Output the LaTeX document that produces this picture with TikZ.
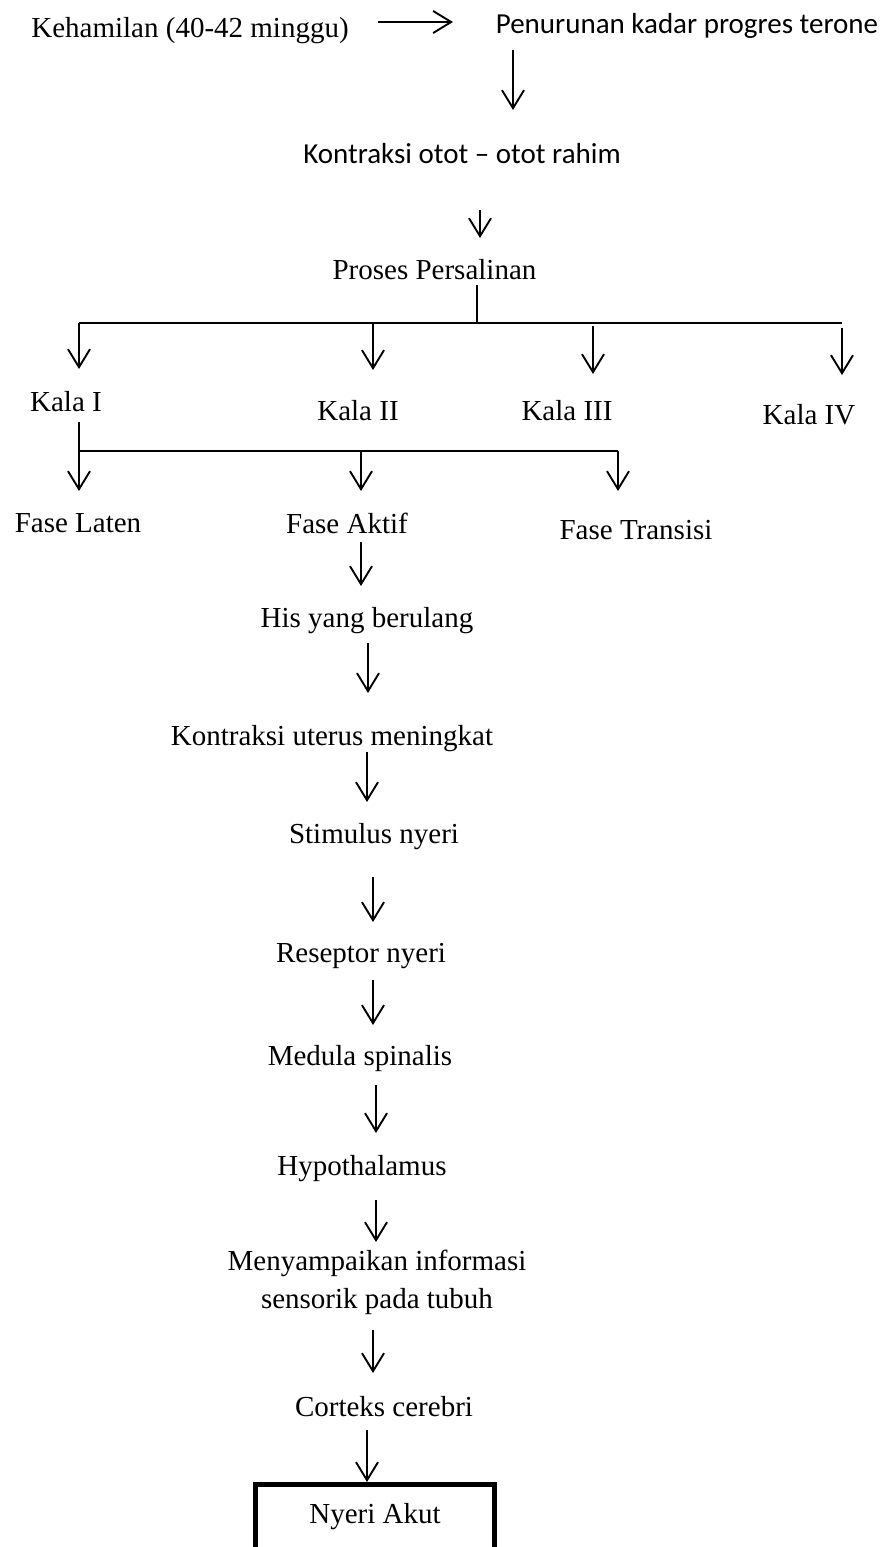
\documentclass[tikz,border=0pt]{standalone}
\usepackage{fontspec}
\setmainfont{Liberation Serif}
\newfontfamily\calibri{Carlito}
\usetikzlibrary{arrows.meta}
\begin{document}
\begin{tikzpicture}[x=1pt,y=-1pt,
  lbl/.style={anchor=base, inner sep=0pt, font=\fontsize{29}{38}\selectfont},
  cal/.style={anchor=base, inner sep=0pt, font=\calibri\fontsize{29}{38}\selectfont},
  arr/.style={line width=1.9pt, -{Straight Barb[length=18pt,width=22pt,line width=1.9pt]}},
  ln/.style={line width=1.9pt},
  boxline/.style={line width=5pt}]
\useasboundingbox (0,0) rectangle (886,1547);

% texts
\node[lbl] (keh) at (190,37) {Kehamilan (40-42 minggu)};
\node[cal] (pen) at (687,33) {Penurunan kadar progres terone};
\node[cal] (kon) at (462,163) {Kontraksi otot – otot rahim};
\node[lbl] (pro) at (434.5,279) {Proses Persalinan};
\node[lbl] (k1) at (66,411) {Kala I};
\node[lbl] (k2) at (358,420) {Kala II};
\node[lbl] (k3) at (567,420) {Kala III};
\node[lbl] (k4) at (809,424) {Kala IV};
\node[lbl] (fl) at (78,532) {Fase Laten};
\node[lbl] (fa) at (347,533) {Fase Aktif};
\node[lbl] (ft) at (636,539) {Fase Transisi};
\node[lbl] (his) at (367,627) {His yang berulang};
\node[lbl] (ku) at (332,745) {Kontraksi uterus meningkat};
\node[lbl] (sn) at (374,843) {Stimulus nyeri};
\node[lbl] (rn) at (361,962) {Reseptor nyeri};
\node[lbl] (ms) at (360,1065) {Medula spinalis};
\node[lbl] (hy) at (362,1175) {Hypothalamus};
\node[lbl, align=center] (mi) at (377,1308) {Menyampaikan informasi\\sensorik pada tubuh};
\node[lbl] (cc) at (384,1416) {Corteks cerebri};
\node[lbl] (na) at (375,1523) {Nyeri Akut};

% box
\coordinate (bl) at (255.5,1570);
\coordinate (bt) at (375,1484.5);
\coordinate (br) at (494.5,1570);
\draw[boxline] (bl) |- (bt) -| (br);

% connector points
\coordinate (a1s) at (378,22);   \coordinate (a1e) at (453,22);
\coordinate (a2s) at (513,50);   \coordinate (a2e) at (513,110);
\coordinate (a3s) at (480,210);  \coordinate (a3e) at (480,238);
\coordinate (p0) at (477,285);   \coordinate (p1) at (477,323);
\coordinate (h1l) at (79,323);   \coordinate (h1r) at (842,323);
\coordinate (k1e) at (79,369);
\coordinate (k2s) at (373,323);  \coordinate (k2e) at (373,370);
\coordinate (k3s) at (593,326);  \coordinate (k3e) at (593,374);
\coordinate (k4s) at (842,328);  \coordinate (k4e) at (842,375);
\coordinate (q0) at (79,422);    \coordinate (q1) at (79,451);
\coordinate (h2r) at (618,451);
\coordinate (fle) at (79,491);
\coordinate (fas) at (361,451);  \coordinate (fae) at (361,491);
\coordinate (fte) at (618,491);
\coordinate (b1s) at (361,542);  \coordinate (b1e) at (361,586);
\coordinate (b2s) at (368,643);  \coordinate (b2e) at (368,693);
\coordinate (b3s) at (367,752);  \coordinate (b3e) at (367,802);
\coordinate (b4s) at (373,877);  \coordinate (b4e) at (373,922);
\coordinate (b5s) at (373,980);  \coordinate (b5e) at (373,1025);
\coordinate (b6s) at (376,1085); \coordinate (b6e) at (376,1133);
\coordinate (b7s) at (376,1200); \coordinate (b7e) at (376,1242);
\coordinate (b8s) at (373,1330); \coordinate (b8e) at (373,1373);
\coordinate (b9s) at (367,1430); \coordinate (b9e) at (367,1482);

% connectors
\draw[arr] (a1s) -- (a1e);
\draw[arr] (a2s) -- (a2e);
\draw[arr] (a3s) -- (a3e);
\draw[ln] (p0) -- (p1);
\draw[ln] (h1l) -- (h1r);
\draw[arr] (h1l) -- (k1e);
\draw[arr] (k2s) -- (k2e);
\draw[arr] (k3s) -- (k3e);
\draw[arr] (k4s) -- (k4e);
\draw[ln] (q0) -- (q1) -- (h2r);
\draw[arr] (q1) -- (fle);
\draw[arr] (fas) -- (fae);
\draw[arr] (h2r) -- (fte);
\draw[arr] (b1s) -- (b1e);
\draw[arr] (b2s) -- (b2e);
\draw[arr] (b3s) -- (b3e);
\draw[arr] (b4s) -- (b4e);
\draw[arr] (b5s) -- (b5e);
\draw[arr] (b6s) -- (b6e);
\draw[arr] (b7s) -- (b7e);
\draw[arr] (b8s) -- (b8e);
\draw[arr] (b9s) -- (b9e);
\end{tikzpicture}
\end{document}
